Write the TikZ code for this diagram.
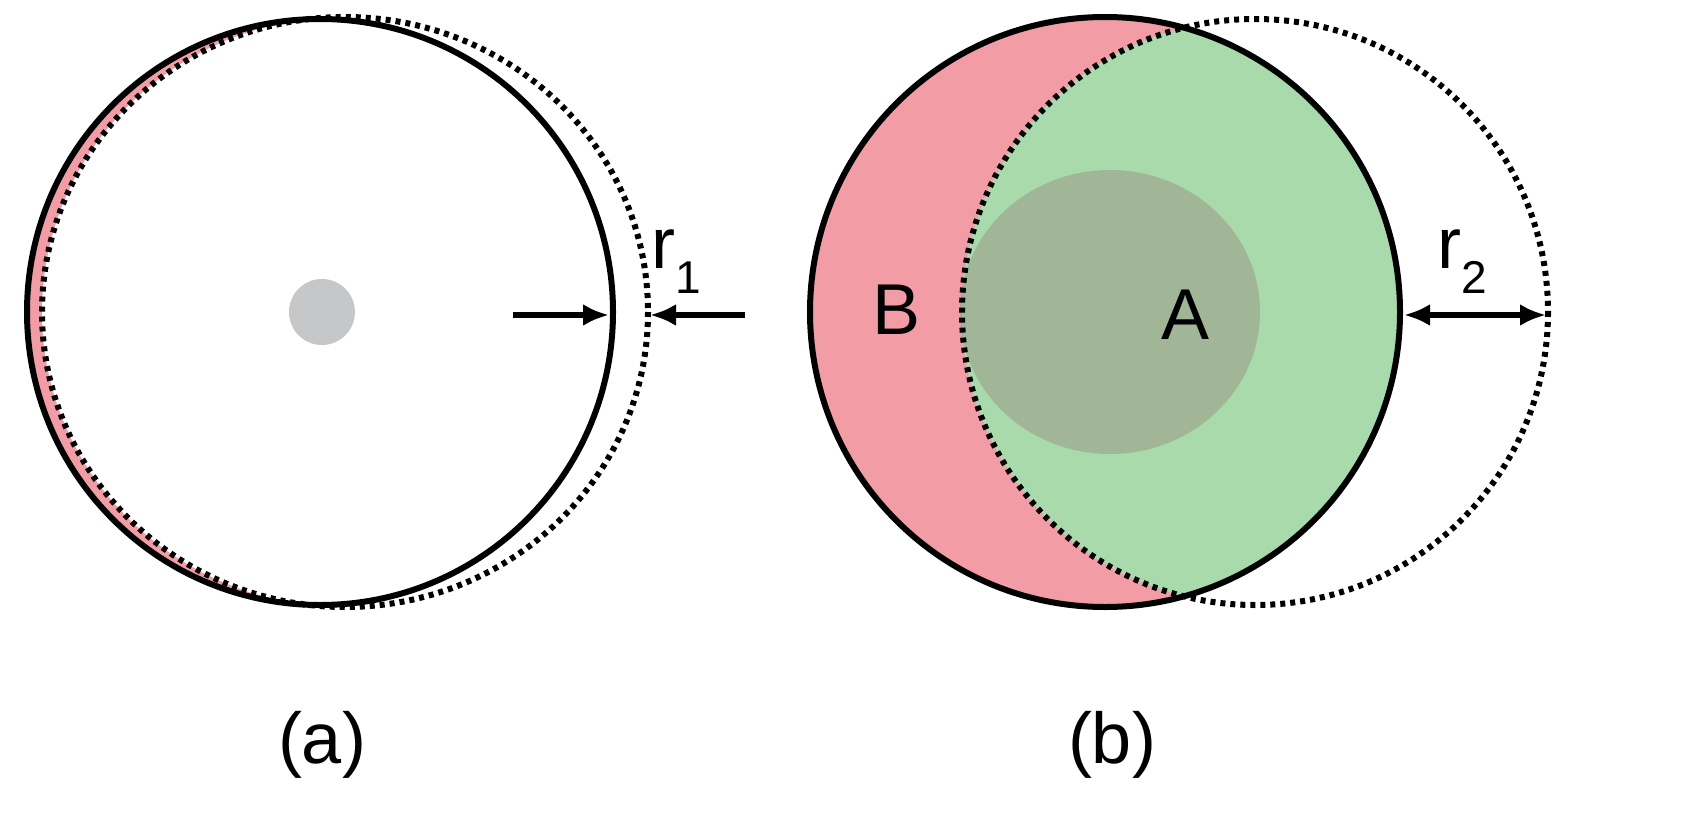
\documentclass[tikz,border=0pt]{standalone}
\usetikzlibrary{arrows.meta}
\usepackage{fontspec}
\setmainfont{Liberation Sans}
\definecolor{pk}{HTML}{F29CA6}
\definecolor{gr}{HTML}{A8DAAC}
\definecolor{dot}{HTML}{C6C7C9}
\begin{document}
\begin{tikzpicture}[x=1pt,y=-1pt,
  solid/.style={line width=6pt},
  dots/.style={line width=6pt,dash pattern=on 5pt off 5pt},
  lab/.style={font=\fontsize{72}{72}\selectfont,inner sep=0},
  arr/.style={line width=5.5pt,-{Latex[length=26pt,width=22pt]}}]
\useasboundingbox (0,0) rectangle (1684,838);
% (a)
\fill[pk] (320,312) circle (293);
\fill[white] (345,312) ellipse (303 and 295);
\fill[dot] (322,312) circle (33);
\draw[dots] (345,312) ellipse (303 and 295);
\draw[solid] (320,312) circle (293);
\coordinate (a1) at (513,315); \coordinate (a2) at (609,315);
\coordinate (a3) at (745,315); \coordinate (a4) at (650,315);
\draw[arr] (a1) -- (a2);
\draw[arr] (a3) -- (a4);
\node[lab] (r1) at (676,262) {r\raisebox{-0.35em}{\fontsize{46}{46}\selectfont 1}};
\node[lab] (la) at (322,745) {(a)};
% (b)
\fill[pk] (1105,312) circle (295);
\begin{scope}
\clip (1105,312) circle (295);
\fill[gr] (1255,312) circle (293);
\end{scope}
\fill[black!30!gr!70!pk,opacity=0.55] (1110,312) ellipse (150 and 142);
\draw[dots] (1255,312) circle (293);
\draw[solid] (1105,312) circle (295);
\coordinate (b1) at (1404,315); \coordinate (b2) at (1546,315);
\draw[line width=5.5pt,{Latex[length=26pt,width=22pt]}-{Latex[length=26pt,width=22pt]}] (b1) -- (b2);
\node[lab] (r2) at (1462,262) {r\raisebox{-0.35em}{\fontsize{46}{46}\selectfont 2}};
\node[lab] (B) at (897,310) {B};
\node[lab] (A) at (1185,315) {A};
\node[lab] (lb) at (1112,745) {(b)};
\end{tikzpicture}
\end{document}
